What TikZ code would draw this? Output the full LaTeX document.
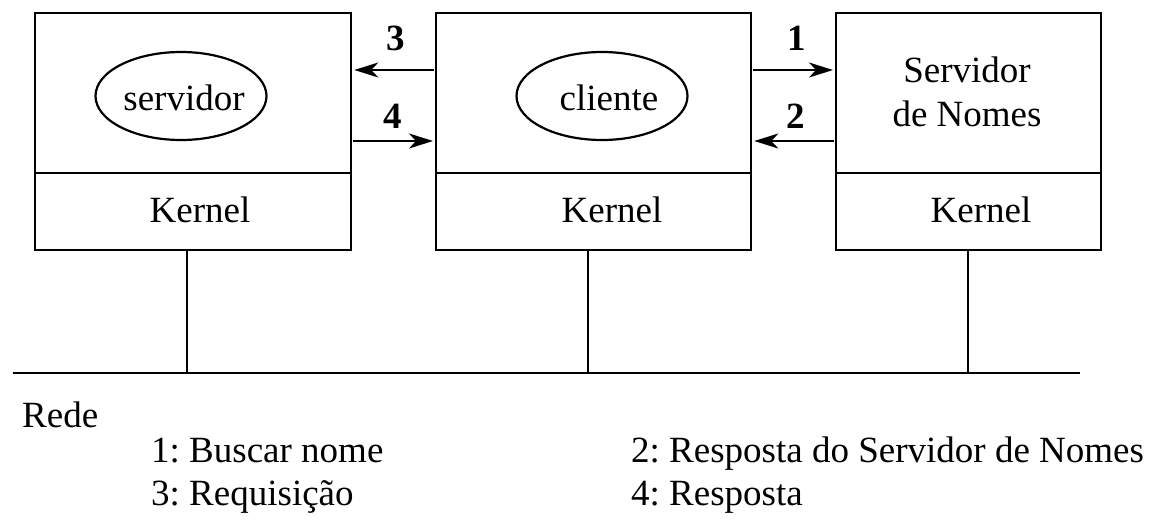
\documentclass[tikz,border=0pt]{standalone}
\usepackage{fontspec}
\setmainfont{Liberation Serif}
\usetikzlibrary{arrows.meta,shapes.geometric}
\frenchspacing
\begin{document}
\begin{tikzpicture}[x=1pt,y=-1pt,
  every node/.style={font=\fontsize{37}{43}\selectfont\frenchspacing, inner sep=0pt},
  part/.style={draw, line width=2.3pt, rectangle, anchor=north west, minimum height=#1},
  proc/.style={draw, line width=2.2pt, ellipse, minimum width=171pt, minimum height=88pt},
  num/.style={font=\fontsize{37}{43}\selectfont\bfseries, anchor=base},
  msg/.style={line width=2.2pt, -{Stealth[length=24pt,width=15pt,inset=7pt]}, shorten >=2pt, shorten <=1pt},
  wire/.style={line width=2.2pt}
]
\useasboundingbox (0,0) rectangle (1153,530);

% boxes
\node[part=160pt, minimum width=316pt] (top1) at (34,12) {};
\node[part=77pt, minimum width=316pt] (k1) at (34,172) {};
\node[part=160pt, minimum width=315pt] (top2) at (435,12) {};
\node[part=77pt, minimum width=315pt] (k2) at (435,172) {};
\node[part=160pt, minimum width=265pt] (top3) at (835,12) {};
\node[part=77pt, minimum width=265pt] (k3) at (835,172) {};

% kernel texts
\node[anchor=base] (kt1) at (200,222) {Kernel};
\node[anchor=base] (kt2) at (612,222) {Kernel};
\node[anchor=base] (kt3) at (981,222) {Kernel};

% processes
\node[proc] (srv) at (181,96) {};
\node[anchor=base] (srvt) at (184,110) {servidor};
\node[proc] (cli) at (602,96) {};
\node[anchor=base] (clit) at (609,110) {cliente};
\node[anchor=base] (ns1) at (967,82) {Servidor};
\node[anchor=base] (ns2) at (967,126) {de Nomes};

% messages
\draw[msg] (top2.west |- 0,70) -- (top1.east |- 0,70);
\draw[msg] (top1.east |- 0,141) -- (top2.west |- 0,141);
\draw[msg] (top2.east |- 0,70) -- (top3.west |- 0,70);
\draw[msg] (top3.west |- 0,141) -- (top2.east |- 0,141);
\node[num] (n3) at (396,50) {3};
\node[num] (n4) at (393,128) {4};
\node[num] (n1) at (797,50) {1};
\node[num] (n2) at (796,128) {2};

% network
\coordinate (netL) at (13,373);
\coordinate (netR) at (1080,373);
\draw[wire] (netL) -- (netR);
\draw[wire] (k1.south -| 187,0) -- (netL -| 187,0);
\draw[wire] (k2.south -| 588,0) -- (netL -| 588,0);
\draw[wire] (k3.south -| 968,0) -- (netL -| 968,0);

% legend
\node[anchor=base west] (rede) at (22,427) {Rede};
\node[anchor=base west] (l1) at (151,462) {1: Buscar nome};
\node[anchor=base west] (l3) at (151,505) {3: Requisição};
\node[anchor=base west] (l2) at (631,462) {2: Resposta do Servidor de Nomes};
\node[anchor=base west] (l4) at (631,505) {4: Resposta};
\end{tikzpicture}
\end{document}
